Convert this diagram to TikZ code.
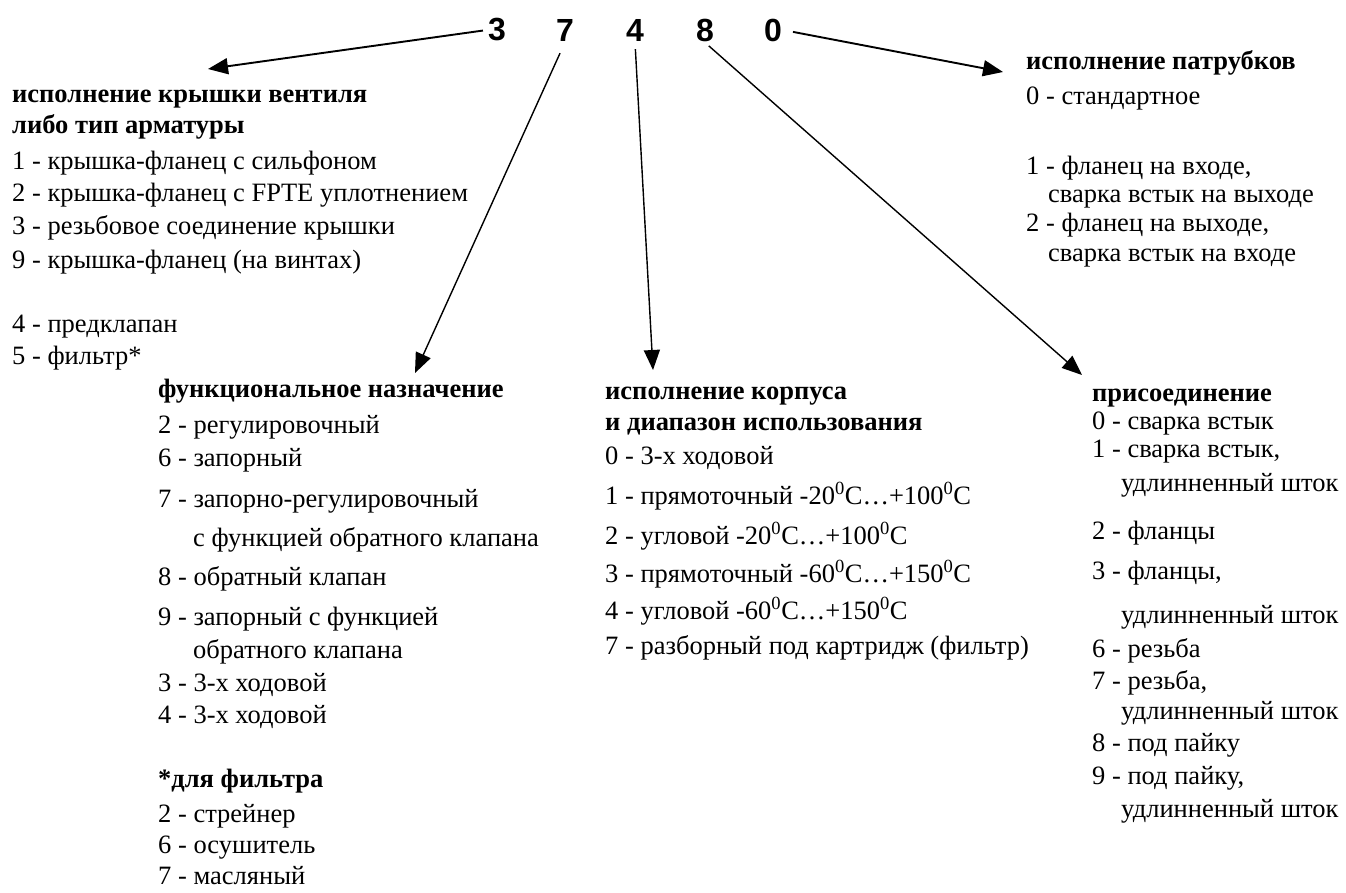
\documentclass[tikz,border=0pt]{standalone}
\usepackage{fontspec}
\setmainfont{Liberation Serif}
\newfontfamily\digfont{Liberation Sans}
\usetikzlibrary{arrows.meta}

\begin{document}
\begin{tikzpicture}[
    x=1pt, y=-1pt,
    txt/.style = {anchor=base west, inner sep=0pt, font=\fontsize{26.5}{30}\selectfont},
    head/.style = {txt, font=\fontsize{26.5}{30}\selectfont\bfseries},
    digit/.style = {inner sep=1pt, font=\fontsize{32}{32}\selectfont\digfont\bfseries},
    pointer/.style = {-{Triangle[length=20pt, width=16pt]}, line width=1.4pt}
  ]
  \useasboundingbox (0,0) rectangle (1346,892);
  % the code number
  \node[digit] (d3) at (497,30) {3};
  \node[digit] (d7) at (565,30) {7};
  \node[digit] (d4) at (635,30) {4};
  \node[digit] (d8) at (705,30) {8};
  \node[digit] (d0) at (773,30) {0};
  \coordinate (t3) at (208,69);
  \coordinate (t7) at (415,373);
  \coordinate (t4) at (653,370);
  \coordinate (t8) at (1082,375);
  \coordinate (t0) at (1003,72);
  % cover of the valve
  \node[head] (kr0) at (12,102) {исполнение крышки вентиля};
  \node[head] (kr1) at (12,133) {либо тип арматуры};
  \node[txt] (kr2) at (12,169) {1 - крышка-фланец с сильфоном};
  \node[txt] (kr3) at (12,201) {2 - крышка-фланец с FPTE уплотнением};
  \node[txt] (kr4) at (12,234) {3 - резьбовое соединение крышки};
  \node[txt] (kr5) at (12,268) {9 - крышка-фланец (на винтах)};
  \node[txt] (kr6) at (12,332) {4 - предклапан};
  \node[txt] (kr7) at (12,364) {5 - фильтр*};
  % function
  \node[head] (fn0) at (158,397) {функциональное назначение};
  \node[txt] (fn1) at (158,433) {2 - регулировочный};
  \node[txt] (fn2) at (158,466) {6 - запорный};
  \node[txt] (fn3) at (158,507) {7 - запорно-регулировочный};
  \node[txt] (fn4) at (193,546) {с функцией обратного клапана};
  \node[txt] (fn5) at (158,585) {8 - обратный клапан};
  \node[txt] (fn6) at (158,625) {9 - запорный с функцией};
  \node[txt] (fn7) at (193,658) {обратного клапана};
  \node[txt] (fn8) at (158,691) {3 - 3-х ходовой};
  \node[txt] (fn9) at (158,723) {4 - 3-х ходовой};
  \node[head] (fl0) at (158,787) {*для фильтра};
  \node[txt] (fl1) at (158,822) {2 - стрейнер};
  \node[txt] (fl2) at (158,853) {6 - осушитель};
  \node[txt] (fl3) at (158,884) {7 - масляный};
  % body
  \node[head] (kp0) at (605,399) {исполнение корпуса};
  \node[head] (kp1) at (605,430) {и диапазон использования};
  \node[txt] (kp2) at (605,464) {0 - 3-х ходовой};
  \node[txt] (kp3) at (605,504) {1 - прямоточный -20\textsuperscript{0}C…+100\textsuperscript{0}C};
  \node[txt] (kp4) at (605,544) {2 - угловой -20\textsuperscript{0}C…+100\textsuperscript{0}C};
  \node[txt] (kp5) at (605,582) {3 - прямоточный -60\textsuperscript{0}C…+150\textsuperscript{0}C};
  \node[txt] (kp6) at (605,619) {4 - угловой -60\textsuperscript{0}C…+150\textsuperscript{0}C};
  \node[txt] (kp7) at (605,654) {7 - разборный под картридж (фильтр)};
  % connection
  \node[head] (pr0) at (1092,401) {присоединение};
  \node[txt] (pr1) at (1092,429) {0 - сварка встык};
  \node[txt] (pr2) at (1092,457) {1 - сварка встык,};
  \node[txt] (pr3) at (1121,491) {удлинненный шток};
  \node[txt] (pr4) at (1092,539) {2 - фланцы};
  \node[txt] (pr5) at (1092,579) {3 - фланцы,};
  \node[txt] (pr6) at (1121,623) {удлинненный шток};
  \node[txt] (pr7) at (1092,657) {6 - резьба};
  \node[txt] (pr8) at (1092,689) {7 - резьба,};
  \node[txt] (pr9) at (1121,719) {удлинненный шток};
  \node[txt] (pr10) at (1092,751) {8 - под пайку};
  \node[txt] (pr11) at (1092,784) {9 - под пайку,};
  \node[txt] (pr12) at (1121,817) {удлинненный шток};
  % pipe ends
  \node[head] (pt0) at (1026,69) {исполнение патрубков};
  \node[txt] (pt1) at (1026,104) {0 - стандартное};
  \node[txt] (pt2) at (1026,174) {1 - фланец на входе,};
  \node[txt] (pt3) at (1048,202) {сварка встык на выходе};
  \node[txt] (pt4) at (1026,231) {2 - фланец на выходе,};
  \node[txt] (pt5) at (1048,261) {сварка встык на входе};
  % arrows
  \draw[pointer, line width=1.9pt, shorten <=4pt] (d3.west) -- (t3);
  \draw[pointer, shorten <=12pt] (d7.south) -- (t7);
  \draw[pointer, shorten <=7pt] (d4.south) -- (t4);
  \draw[pointer, shorten <=5pt] (d8.south) -- (t8);
  \draw[pointer, line width=1.9pt, shorten <=10pt] (d0.east) -- (t0);
\end{tikzpicture}
\end{document}
